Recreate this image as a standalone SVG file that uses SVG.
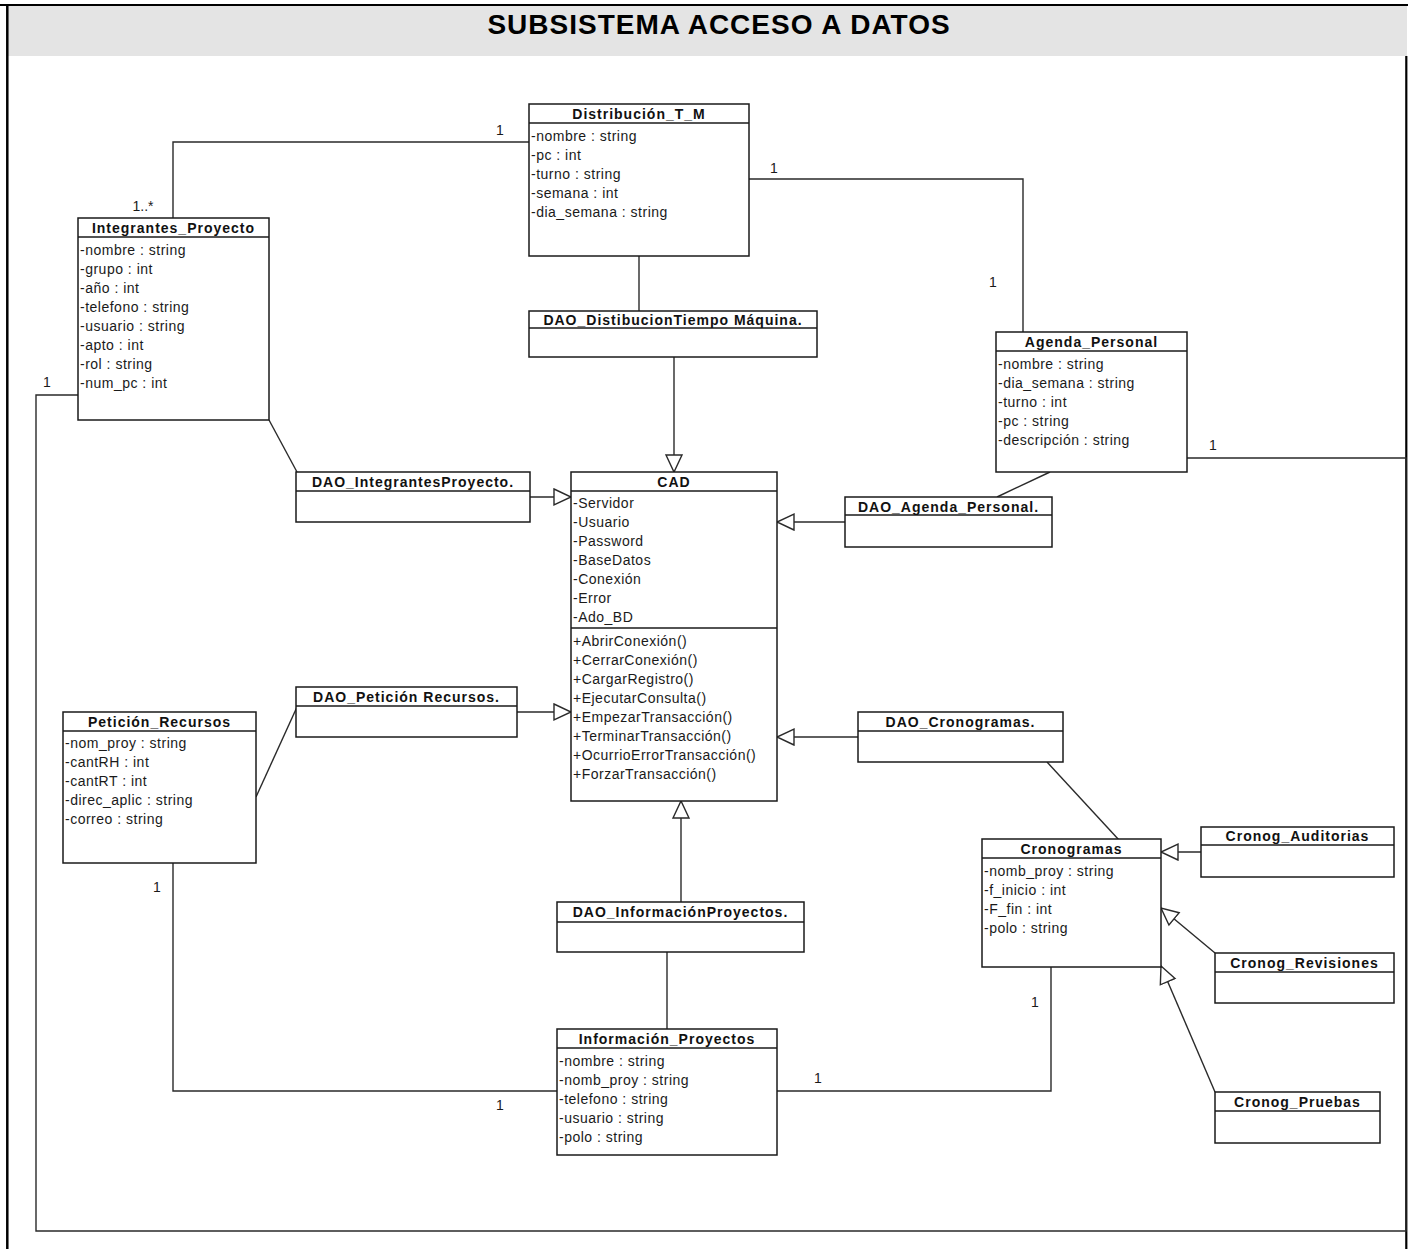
<svg xmlns="http://www.w3.org/2000/svg" width="1415" height="1249" viewBox="0 0 1415 1249">
  <style>
    .box { fill: #ffffff; stroke: #1a1a1a; stroke-width: 1.5; }
    .sep { stroke: #1a1a1a; stroke-width: 1.3; }
    .hdr { font-family: "Liberation Sans", Arial, sans-serif; font-size: 14px; font-weight: bold; letter-spacing: 1px; text-anchor: middle; fill: #111; }
    .att { font-family: "Liberation Sans", Arial, sans-serif; font-size: 14px; letter-spacing: 0.5px; fill: #1a1a1a; }
    .mult { font-family: "Liberation Sans", Arial, sans-serif; font-size: 14px; fill: #1a1a1a; text-anchor: middle; }
    .conn { fill: none; stroke: #2a2a2a; stroke-width: 1.4; }
    .gen { fill: none; stroke: #2a2a2a; stroke-width: 1.4; marker-end: url(#hollow); }
  </style>
  <defs>
    <!-- hollow triangle for generalization -->
    <marker id="hollow" markerUnits="userSpaceOnUse" markerWidth="20" markerHeight="20" refX="17" refY="8" orient="auto" viewBox="-1 -1 20 18">
      <path d="M0,0 L17,8 L0,16 Z" fill="#ffffff" stroke="#2a2a2a" stroke-width="1.4"/>
    </marker>
  </defs>

  <rect x="0" y="0" width="1415" height="1249" fill="#ffffff"/>

  <!-- frame and title band -->
  <g id="frame">
    <rect x="7" y="5" width="1400" height="51" fill="#e4e4e4"/>
    <line x1="0" y1="5" x2="1408" y2="5" stroke="#000" stroke-width="2.2"/>
    <line x1="7.3" y1="5" x2="7.3" y2="1249" stroke="#000" stroke-width="2.5"/>
    <line x1="1406.3" y1="56" x2="1406.3" y2="1249" stroke="#000" stroke-width="2.2"/>
    <text x="719" y="34" font-family="'Liberation Sans', Arial, sans-serif" font-size="28" font-weight="bold" letter-spacing="1" text-anchor="middle" fill="#000">SUBSISTEMA ACCESO A DATOS</text>
  </g>

  <!-- connectors -->
  <g id="connectors">
    <!-- associations -->
    <polyline class="conn" points="173,218 173,142 529,142"/>
    <polyline class="conn" points="749,179 1023,179 1023,332"/>
    <line class="conn" x1="639" y1="256" x2="639" y2="311"/>
    <line class="conn" x1="269" y1="420" x2="297" y2="472"/>
    <line class="conn" x1="1050" y1="472" x2="997" y2="497"/>
    <polyline class="conn" points="1187,458 1406,458 1406,1231 36,1231 36,395 78,395"/>
    <line class="conn" x1="256" y1="797" x2="297" y2="707"/>
    <polyline class="conn" points="173,863 173,1091 557,1091"/>
    <polyline class="conn" points="777,1091 1051,1091 1051,967"/>
    <line class="conn" x1="667" y1="952" x2="667" y2="1029"/>
    <line class="conn" x1="1047" y1="762" x2="1119" y2="840"/>

    <!-- generalizations -->
    <line class="gen" x1="674" y1="357" x2="674" y2="472"/>
    <line class="gen" x1="530" y1="497" x2="571" y2="497"/>
    <line class="gen" x1="517" y1="712" x2="571" y2="712"/>
    <line class="gen" x1="845" y1="522" x2="777" y2="522"/>
    <line class="gen" x1="858" y1="737" x2="777" y2="737"/>
    <line class="gen" x1="681" y1="902" x2="681" y2="801"/>
    <line class="gen" x1="1201" y1="852" x2="1161" y2="852"/>
    <line class="gen" x1="1215" y1="953" x2="1161" y2="908"/>
    <line class="gen" x1="1215" y1="1092" x2="1161" y2="966"/>

    <!-- multiplicities -->
    <text class="mult" x="500" y="135">1</text>
    <text class="mult" x="143" y="211">1..*</text>
    <text class="mult" x="774" y="173">1</text>
    <text class="mult" x="993" y="287">1</text>
    <text class="mult" x="47" y="387">1</text>
    <text class="mult" x="1213" y="450">1</text>
    <text class="mult" x="157" y="892">1</text>
    <text class="mult" x="1035" y="1007">1</text>
    <text class="mult" x="818" y="1083">1</text>
    <text class="mult" x="500" y="1110">1</text>
  </g>

  <!-- Distribución_T_M -->
  <g id="distribucion-tm">
    <rect class="box" x="529" y="104" width="220" height="152"/>
    <line class="sep" x1="529" y1="123" x2="749" y2="123"/>
    <text class="hdr" x="639" y="119">Distribución_T_M</text>
    <text class="att" x="531" y="141">-nombre : string</text>
    <text class="att" x="531" y="160">-pc : int</text>
    <text class="att" x="531" y="179">-turno : string</text>
    <text class="att" x="531" y="198">-semana : int</text>
    <text class="att" x="531" y="217">-dia_semana : string</text>
  </g>

  <!-- Integrantes_Proyecto -->
  <g id="integrantes-proyecto">
    <rect class="box" x="78" y="218" width="191" height="202"/>
    <line class="sep" x1="78" y1="237" x2="269" y2="237"/>
    <text class="hdr" x="173.5" y="233">Integrantes_Proyecto</text>
    <text class="att" x="80" y="255">-nombre : string</text>
    <text class="att" x="80" y="274">-grupo : int</text>
    <text class="att" x="80" y="293">-año : int</text>
    <text class="att" x="80" y="312">-telefono : string</text>
    <text class="att" x="80" y="331">-usuario : string</text>
    <text class="att" x="80" y="350">-apto : int</text>
    <text class="att" x="80" y="369">-rol : string</text>
    <text class="att" x="80" y="388">-num_pc : int</text>
  </g>

  <!-- DAO_DistibucionTiempo Máquina. -->
  <g id="dao-distribucion">
    <rect class="box" x="529" y="311" width="288" height="46"/>
    <line class="sep" x1="529" y1="328" x2="817" y2="328"/>
    <text class="hdr" x="673" y="325">DAO_DistibucionTiempo Máquina.</text>
  </g>

  <!-- Agenda_Personal -->
  <g id="agenda-personal">
    <rect class="box" x="996" y="332" width="191" height="140"/>
    <line class="sep" x1="996" y1="351" x2="1187" y2="351"/>
    <text class="hdr" x="1091.5" y="347">Agenda_Personal</text>
    <text class="att" x="998" y="369">-nombre : string</text>
    <text class="att" x="998" y="388">-dia_semana : string</text>
    <text class="att" x="998" y="407">-turno : int</text>
    <text class="att" x="998" y="426">-pc : string</text>
    <text class="att" x="998" y="445">-descripción : string</text>
  </g>

  <!-- DAO_IntegrantesProyecto. -->
  <g id="dao-integrantes">
    <rect class="box" x="296" y="472" width="234" height="50"/>
    <line class="sep" x1="296" y1="491" x2="530" y2="491"/>
    <text class="hdr" x="413" y="487">DAO_IntegrantesProyecto.</text>
  </g>

  <!-- DAO_Agenda_Personal. -->
  <g id="dao-agenda">
    <rect class="box" x="845" y="497" width="207" height="50"/>
    <line class="sep" x1="845" y1="515" x2="1052" y2="515"/>
    <text class="hdr" x="948.5" y="512">DAO_Agenda_Personal.</text>
  </g>

  <!-- CAD -->
  <g id="cad">
    <rect class="box" x="571" y="472" width="206" height="329"/>
    <line class="sep" x1="571" y1="491" x2="777" y2="491"/>
    <line class="sep" x1="571" y1="628" x2="777" y2="628"/>
    <text class="hdr" x="674" y="487">CAD</text>
    <text class="att" x="573" y="508">-Servidor</text>
    <text class="att" x="573" y="527">-Usuario</text>
    <text class="att" x="573" y="546">-Password</text>
    <text class="att" x="573" y="565">-BaseDatos</text>
    <text class="att" x="573" y="584">-Conexión</text>
    <text class="att" x="573" y="603">-Error</text>
    <text class="att" x="573" y="622">-Ado_BD</text>
    <text class="att" x="573" y="646">+AbrirConexión()</text>
    <text class="att" x="573" y="665">+CerrarConexión()</text>
    <text class="att" x="573" y="684">+CargarRegistro()</text>
    <text class="att" x="573" y="703">+EjecutarConsulta()</text>
    <text class="att" x="573" y="722">+EmpezarTransacción()</text>
    <text class="att" x="573" y="741">+TerminarTransacción()</text>
    <text class="att" x="573" y="760">+OcurrioErrorTransacción()</text>
    <text class="att" x="573" y="779">+ForzarTransacción()</text>
  </g>

  <!-- DAO_Petición Recursos. -->
  <g id="dao-peticion">
    <rect class="box" x="296" y="687" width="221" height="50"/>
    <line class="sep" x1="296" y1="706" x2="517" y2="706"/>
    <text class="hdr" x="406.5" y="702">DAO_Petición Recursos.</text>
  </g>

  <!-- Petición_Recursos -->
  <g id="peticion-recursos">
    <rect class="box" x="63" y="712" width="193" height="151"/>
    <line class="sep" x1="63" y1="731" x2="256" y2="731"/>
    <text class="hdr" x="159.5" y="727">Petición_Recursos</text>
    <text class="att" x="65" y="748">-nom_proy : string</text>
    <text class="att" x="65" y="767">-cantRH : int</text>
    <text class="att" x="65" y="786">-cantRT : int</text>
    <text class="att" x="65" y="805">-direc_aplic : string</text>
    <text class="att" x="65" y="824">-correo : string</text>
  </g>

  <!-- DAO_Cronogramas. -->
  <g id="dao-cronogramas">
    <rect class="box" x="858" y="712" width="205" height="50"/>
    <line class="sep" x1="858" y1="731" x2="1063" y2="731"/>
    <text class="hdr" x="960.5" y="727">DAO_Cronogramas.</text>
  </g>

  <!-- Cronogramas -->
  <g id="cronogramas">
    <rect class="box" x="982" y="839" width="179" height="128"/>
    <line class="sep" x1="982" y1="858" x2="1161" y2="858"/>
    <text class="hdr" x="1071.5" y="854">Cronogramas</text>
    <text class="att" x="984" y="876">-nomb_proy : string</text>
    <text class="att" x="984" y="895">-f_inicio : int</text>
    <text class="att" x="984" y="914">-F_fin : int</text>
    <text class="att" x="984" y="933">-polo : string</text>
  </g>

  <!-- Cronog_Auditorias -->
  <g id="cronog-auditorias">
    <rect class="box" x="1201" y="827" width="193" height="50"/>
    <line class="sep" x1="1201" y1="845" x2="1394" y2="845"/>
    <text class="hdr" x="1297.5" y="841">Cronog_Auditorias</text>
  </g>

  <!-- Cronog_Revisiones -->
  <g id="cronog-revisiones">
    <rect class="box" x="1215" y="953" width="179" height="50"/>
    <line class="sep" x1="1215" y1="972" x2="1394" y2="972"/>
    <text class="hdr" x="1304.5" y="968">Cronog_Revisiones</text>
  </g>

  <!-- Cronog_Pruebas -->
  <g id="cronog-pruebas">
    <rect class="box" x="1215" y="1092" width="165" height="51"/>
    <line class="sep" x1="1215" y1="1111" x2="1380" y2="1111"/>
    <text class="hdr" x="1297.5" y="1107">Cronog_Pruebas</text>
  </g>

  <!-- DAO_InformaciónProyectos. -->
  <g id="dao-informacion">
    <rect class="box" x="557" y="902" width="247" height="50"/>
    <line class="sep" x1="557" y1="922" x2="804" y2="922"/>
    <text class="hdr" x="680.5" y="917">DAO_InformaciónProyectos.</text>
  </g>

  <!-- Información_Proyectos -->
  <g id="informacion-proyectos">
    <rect class="box" x="557" y="1029" width="220" height="126"/>
    <line class="sep" x1="557" y1="1048" x2="777" y2="1048"/>
    <text class="hdr" x="667" y="1044">Información_Proyectos</text>
    <text class="att" x="559" y="1066">-nombre : string</text>
    <text class="att" x="559" y="1085">-nomb_proy : string</text>
    <text class="att" x="559" y="1104">-telefono : string</text>
    <text class="att" x="559" y="1123">-usuario : string</text>
    <text class="att" x="559" y="1142">-polo : string</text>
  </g>
</svg>
